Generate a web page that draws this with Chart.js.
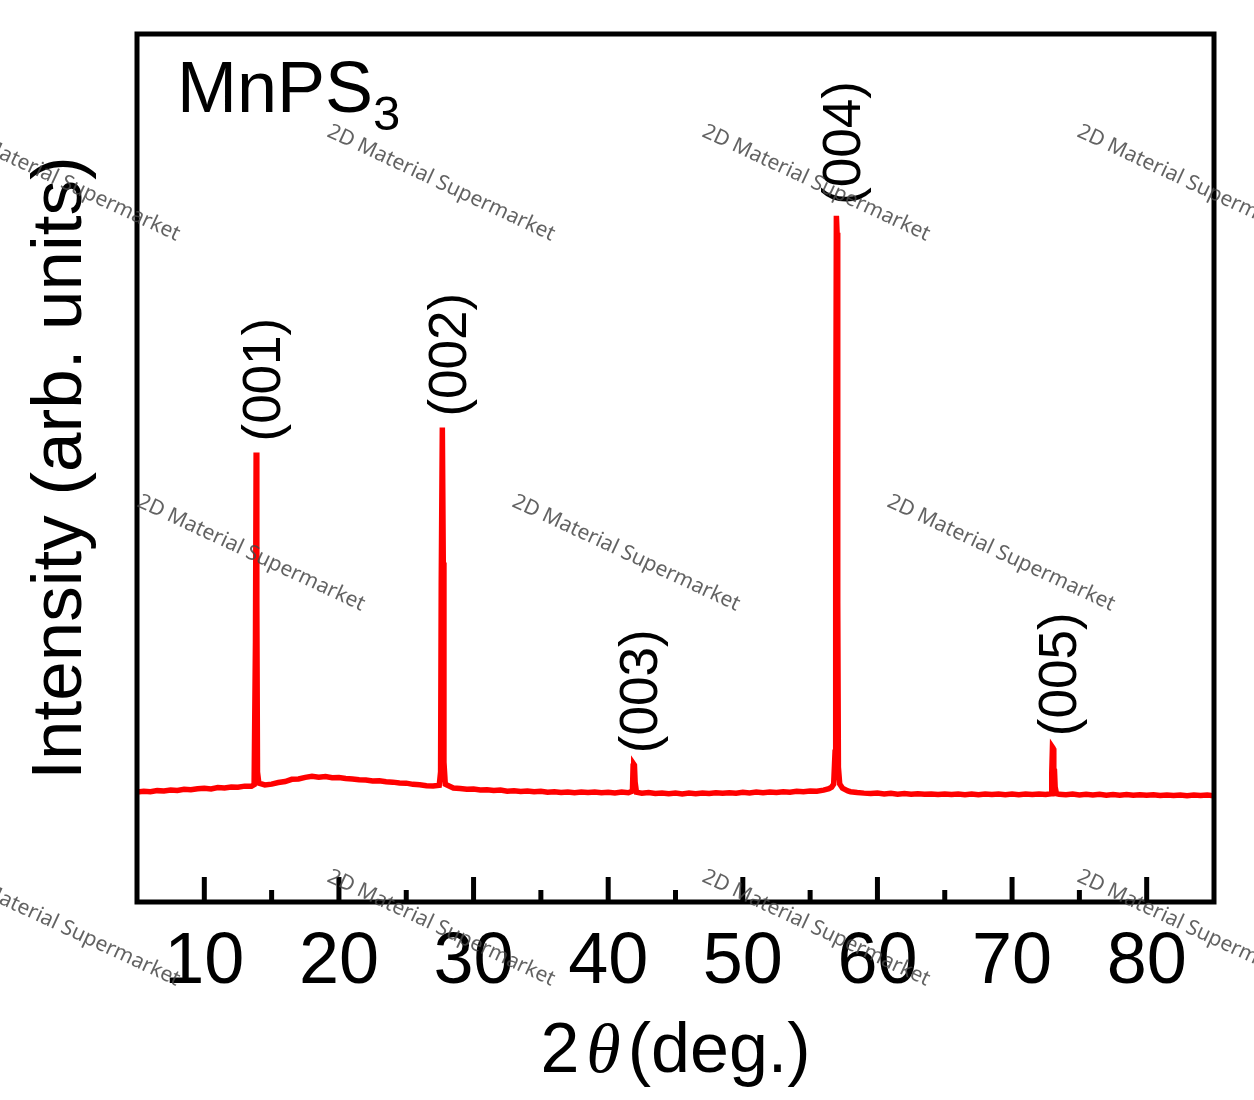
<!DOCTYPE html>
<html>
<head>
    <title>MnPS3 XRD</title>
    <style>
        body {
            margin: 0;
            background-color: #ffffff;
        }
        #wrap {
            width: 1254px;
            height: 1100px;
            position: relative;
        }
    </style>
</head>
<body>
    <div id="wrap">
        <canvas id="xrdCanvas"></canvas>
    </div>

    <script src="https://cdn.jsdelivr.net/npm/chart.js"></script>
    <script>
        // 2theta (deg.) and intensity (arb. units)
        const twoTheta = [
            5.0, 5.5, 6.0, 6.5, 7.0, 7.5, 8.0, 8.5, 9.0, 9.5,
            10.0, 10.5, 11.0, 11.5, 12.0, 12.5, 13.0, 13.5, 13.7, 13.8,
            13.85, 13.9, 13.95, 14.05, 14.5, 15.0, 15.5, 16.0, 16.5, 17.0,
            17.5, 18.0, 18.5, 19.0, 19.5, 20.0, 20.5, 21.0, 21.5, 22.0,
            22.5, 23.0, 23.5, 24.0, 24.5, 25.0, 25.5, 26.0, 26.5, 27.0,
            27.45, 27.55, 27.6, 27.68, 27.75, 27.8, 27.9, 28.5, 29.0, 29.5,
            30.0, 30.5, 31.0, 31.5, 32.0, 32.5, 33.0, 33.5, 34.0, 34.5,
            35.0, 35.5, 36.0, 36.5, 37.0, 37.5, 38.0, 38.5, 39.0, 39.5,
            40.0, 40.5, 41.0, 41.5, 41.8, 41.85, 41.9, 41.95, 42.0, 42.1,
            42.5, 43.0, 43.5, 44.0, 44.5, 45.0, 45.5, 46.0, 46.5, 47.0,
            47.5, 48.0, 48.5, 49.0, 49.5, 50.0, 50.5, 51.0, 51.5, 52.0,
            52.5, 53.0, 53.5, 54.0, 54.5, 55.0, 55.5, 56.0, 56.4, 56.6,
            56.75, 56.85, 56.9, 56.95, 57.0, 57.05, 57.1, 57.2, 57.4, 57.8,
            58.0, 58.5, 59.0, 59.5, 60.0, 60.5, 61.0, 61.5, 62.0, 62.5,
            63.0, 63.5, 64.0, 64.5, 65.0, 65.5, 66.0, 66.5, 67.0, 67.5,
            68.0, 68.5, 69.0, 69.5, 70.0, 70.5, 71.0, 71.5, 72.0, 72.5,
            72.9, 72.95, 73.0, 73.05, 73.1, 73.15, 73.2, 73.3, 73.5, 74.0,
            74.5, 75.0, 75.5, 76.0, 76.5, 77.0, 77.5, 78.0, 78.5, 79.0,
            79.5, 80.0, 80.5, 81.0, 81.5, 82.0, 82.5, 83.0, 83.5, 84.0,
            84.5, 85.0
        ];
        const intensity = [
            1100, 1108, 1104, 1115, 1112, 1122, 1116, 1128, 1124, 1134,
            1138, 1132, 1146, 1142, 1152, 1148, 1160, 1158, 1175, 2600,
            4500, 3000, 1300, 1190, 1172, 1180, 1196, 1206, 1228, 1232,
            1248, 1258, 1250, 1256, 1244, 1246, 1236, 1232, 1224, 1222,
            1212, 1214, 1204, 1200, 1192, 1190, 1178, 1174, 1164, 1162,
            1168, 1300, 3200, 4750, 3400, 1400, 1180, 1142, 1136, 1128,
            1132, 1122, 1124, 1116, 1120, 1110, 1114, 1106, 1112, 1104,
            1108, 1100, 1104, 1096, 1102, 1094, 1100, 1096, 1102, 1094,
            1098, 1092, 1100, 1094, 1110, 1360, 1380, 1370, 1200, 1100,
            1090, 1096, 1086, 1092, 1084, 1090, 1082, 1090, 1084, 1092,
            1086, 1094, 1088, 1094, 1090, 1098, 1092, 1100, 1094, 1102,
            1096, 1104, 1100, 1108, 1104, 1112, 1110, 1120, 1134, 1150,
            1180, 1500, 4200, 6870, 6700, 3000, 1350, 1180, 1140, 1112,
            1104, 1096, 1090, 1086, 1090, 1082, 1088, 1080, 1086, 1078,
            1084, 1078, 1082, 1076, 1082, 1076, 1080, 1074, 1080, 1074,
            1080, 1076, 1082, 1074, 1080, 1074, 1080, 1076, 1082, 1076,
            1084, 1300, 1550, 1540, 1330, 1320, 1150, 1084, 1078, 1074,
            1080, 1072, 1078, 1072, 1078, 1070, 1076, 1070, 1076, 1068,
            1074, 1068, 1074, 1066, 1072, 1066, 1072, 1064, 1070, 1066,
            1070, 1064
        ];

        // reflections
        const peakLabels = ['(001)', '(002)', '(003)', '(004)', '(005)'];
        const peakPos = [13.85, 27.68, 41.9, 56.95, 73.0];
        const peakTop = [4500, 4750, 1380, 6870, 1550];

        const watermarkText = '2D Material Supermarket';

        const decor = {
            id: 'decor',
            afterDatasetsDraw(chart) {
                const ctx = chart.ctx;
                const area = chart.chartArea;
                const xs = chart.scales.x;
                const ys = chart.scales.y;
                ctx.save();

                // frame
                ctx.strokeStyle = '#000000';
                ctx.lineWidth = 5;
                ctx.strokeRect(area.left, area.top, area.right - area.left, area.bottom - area.top);

                // inward ticks on the bottom axis
                ctx.lineWidth = 5;
                xs.ticks.forEach(t => {
                    if (t.value <= xs.min || t.value >= xs.max) return;
                    const px = xs.getPixelForValue(t.value);
                    const len = t.value % 10 === 0 ? 25 : 12;
                    ctx.beginPath();
                    ctx.moveTo(px, area.bottom);
                    ctx.lineTo(px, area.bottom - len);
                    ctx.stroke();
                });

                // peak labels
                ctx.fillStyle = '#000000';
                ctx.font = '53px "Liberation Sans"';
                ctx.textAlign = 'left';
                ctx.textBaseline = 'middle';
                peakLabels.forEach((lab, i) => {
                    const px = xs.getPixelForValue(peakPos[i]);
                    const py = ys.getPixelForValue(peakTop[i]);
                    ctx.save();
                    ctx.translate(px + 9, py - 11);
                    ctx.rotate(-Math.PI / 2);
                    ctx.fillText(lab, 0, 0);
                    ctx.restore();
                });

                // sample name
                ctx.textBaseline = 'alphabetic';
                ctx.font = '72px "Liberation Sans"';
                ctx.fillText('MnPS', area.left + 40, area.top + 78);
                const w = ctx.measureText('MnPS').width;
                ctx.font = '49px "Liberation Sans"';
                ctx.fillText('3', area.left + 40 + w, area.top + 96);

                // x title: 2θ (deg.)
                ctx.font = '70px "Liberation Sans"';
                const w2 = ctx.measureText('2').width;
                const wd = ctx.measureText('(deg.)').width;
                ctx.font = 'italic 70px "Liberation Serif"';
                const wt = ctx.measureText('θ').width;
                const gap = 7;
                let x0 = (area.left + area.right) / 2 - (w2 + wt + wd + 2 * gap) / 2;
                const by = area.bottom + 170;
                ctx.font = '70px "Liberation Sans"';
                ctx.fillText('2', x0, by);
                x0 += w2 + gap;
                ctx.font = 'italic 70px "Liberation Serif"';
                ctx.fillText('θ', x0, by);
                x0 += wt + gap;
                ctx.font = '70px "Liberation Sans"';
                ctx.fillText('(deg.)', x0, by);

                ctx.restore();
            },
            afterDraw(chart) {
                const ctx = chart.ctx;
                ctx.save();
                ctx.font = '21px "Noto Sans"';
                ctx.fillStyle = 'rgba(70, 70, 70, 0.85)';
                ctx.textAlign = 'left';
                ctx.textBaseline = 'alphabetic';
                const spots = [
                    [-49, 136], [326, 136], [701, 136], [1076, 136],
                    [136, 506], [511, 506], [886, 506],
                    [-49, 881], [326, 881], [701, 881], [1076, 881]
                ];
                spots.forEach(p => {
                    ctx.save();
                    ctx.translate(p[0], p[1]);
                    ctx.rotate(25 * Math.PI / 180);
                    ctx.fillText(watermarkText, 0, 0);
                    ctx.restore();
                });
                ctx.restore();
            }
        };

        const ctx = document.getElementById('xrdCanvas').getContext('2d');
        const xrdChart = new Chart(ctx, {
            type: 'line',
            data: {
                datasets: [{
                    data: twoTheta.map((t, i) => ({ x: t, y: intensity[i] })),
                    borderColor: '#ff0000',
                    borderWidth: 5.5,
                    pointRadius: 0,
                    tension: 0,
                    fill: false
                }]
            },
            options: {
                responsive: true,
                maintainAspectRatio: false,
                animation: false,
                layout: {
                    padding: { top: 34, right: 40, left: 0, bottom: 0 }
                },
                plugins: {
                    legend: { display: false },
                    tooltip: { enabled: false }
                },
                scales: {
                    x: {
                        type: 'linear',
                        min: 5,
                        max: 85,
                        grid: { display: false, drawTicks: false },
                        border: { display: false },
                        ticks: {
                            stepSize: 5,
                            autoSkip: false,
                            maxRotation: 0,
                            padding: 18,
                            color: '#000000',
                            font: { family: 'Liberation Sans', size: 72 },
                            callback: v => (v % 10 === 0 ? v : '')
                        },
                        afterFit: s => { s.height = 198; }
                    },
                    y: {
                        min: 0,
                        max: 8690,
                        grid: { display: false, drawTicks: false },
                        border: { display: false },
                        ticks: { display: false },
                        title: {
                            display: true,
                            text: 'Intensity (arb. units)',
                            color: '#000000',
                            font: { family: 'Liberation Sans', size: 71 },
                            padding: { top: 19, bottom: 0 }
                        },
                        afterFit: s => { s.width = 137; }
                    }
                }
            },
            plugins: [decor]
        });
    </script>
</body>
</html>
